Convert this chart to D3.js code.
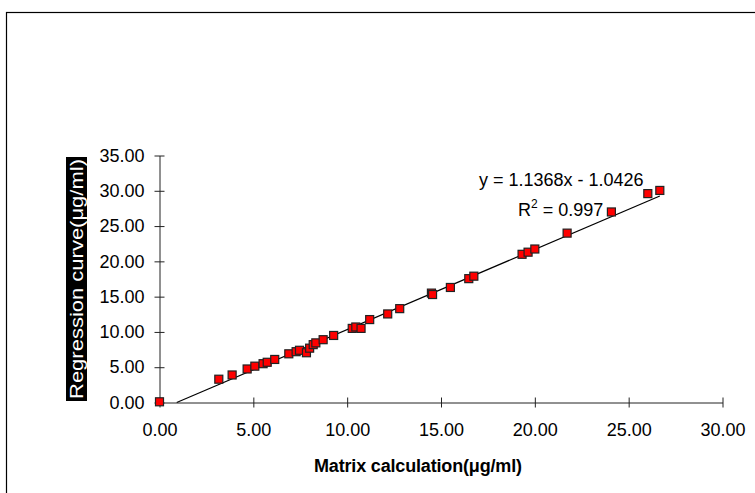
<!DOCTYPE html>
<html>
<head>
<meta charset="utf-8">
<script src="https://cdn.jsdelivr.net/npm/d3@7"></script>
<style>
  body { margin: 0; background: #fff; }
  svg { display: block; font-family: "Liberation Sans", Arial, sans-serif; }
</style>
</head>
<body>
<div id="chart"></div>
<script>
// measured points (matrix calculation vs regression curve)
const matrixX = [0.00, 3.16, 3.87, 4.67, 5.08, 5.52, 5.74, 6.14, 6.89, 7.28, 7.46, 7.83, 8.00, 8.19, 8.33,
  8.72, 9.28, 10.27, 10.46, 10.74, 11.20, 12.16, 12.80, 14.49, 14.55, 15.50, 16.48, 16.75,
  19.32, 19.64, 20.00, 21.72, 24.08, 26.02, 26.66];
const regressionY = [0.10, 3.30, 3.90, 4.75, 5.15, 5.50, 5.70, 6.10, 6.90, 7.20, 7.40, 7.05, 7.70, 8.20, 8.45,
  8.90, 9.50, 10.50, 10.70, 10.50, 11.75, 12.55, 13.30, 15.50, 15.30, 16.30, 17.55, 17.90,
  21.00, 21.30, 21.75, 24.00, 27.00, 29.60, 30.05];
const xTicks = [0, 5, 10, 15, 20, 25, 30];
const yTicks = [0, 5, 10, 15, 20, 25, 30, 35];
// trendline as printed on the chart
const slope = 1.1368;
const intercept = -1.0426;

const W = 755, H = 493;
const svg = d3.select("#chart").append("svg")
  .attr("width", W)
  .attr("height", H);

// outer frame (only top and left edges show in the picture)
svg.append("rect")
  .attr("x", 6.5).attr("y", 12.5)
  .attr("width", 800).attr("height", 600)
  .attr("fill", "none")
  .attr("stroke", "#000")
  .attr("stroke-width", 1.2);

// scales
const x = d3.scaleLinear().domain([0, 30]).range([159.5, 722.5]);
const y = d3.scaleLinear().domain([0, 35]).range([402.5, 155.5]);

// x axis
const xAxis = svg.append("g")
  .attr("transform", `translate(0,${y(0)})`)
  .call(d3.axisBottom(x).tickValues(xTicks).tickFormat(d3.format(".2f")).tickSizeOuter(0));
xAxis.select(".domain").attr("stroke", "#222");
xAxis.selectAll(".tick line").attr("y1", -5).attr("y2", 5).attr("stroke", "#222");
xAxis.selectAll(".tick text")
  .attr("y", 33).attr("dy", null)
  .attr("font-size", 18).attr("fill", "#000")
  .style("font-family", "'Liberation Sans', Arial, sans-serif");

// y axis
const yAxis = svg.append("g")
  .attr("transform", `translate(${x(0)},0)`)
  .call(d3.axisLeft(y).tickValues(yTicks).tickFormat(d3.format(".2f")).tickSizeOuter(0));
yAxis.select(".domain").attr("stroke", "#222");
yAxis.selectAll(".tick line").attr("x1", -5).attr("x2", 5).attr("stroke", "#222");
yAxis.selectAll(".tick text")
  .attr("x", -15)
  .attr("font-size", 18).attr("fill", "#000")
  .style("font-family", "'Liberation Sans', Arial, sans-serif");

// trendline, starts where it crosses y = 0
const x0 = -intercept / slope;
const x1 = d3.max(matrixX);
svg.append("line")
  .attr("x1", x(x0)).attr("y1", y(slope * x0 + intercept))
  .attr("x2", x(x1)).attr("y2", y(slope * x1 + intercept))
  .attr("stroke", "#000")
  .attr("stroke-width", 1.2);

// points
const pts = matrixX.map((v, i) => ({ x: v, y: regressionY[i] }));
svg.append("g")
  .selectAll("rect")
  .data(pts)
  .join("rect")
    .attr("x", d => x(d.x) - 4)
    .attr("y", d => y(d.y) - 4)
    .attr("width", 8)
    .attr("height", 8)
    .attr("fill", "#ff0000")
    .attr("stroke", "#222")
    .attr("stroke-width", 1.2);

// equation + R squared
svg.append("text")
  .attr("x", 479).attr("y", 186)
  .attr("font-size", 18)
  .text("y = 1.1368x - 1.0426");
const r2 = svg.append("text")
  .attr("x", 518).attr("y", 216)
  .attr("font-size", 18);
r2.append("tspan").text("R");
r2.append("tspan").attr("dy", -8).attr("font-size", 12).text("2");
r2.append("tspan").attr("dy", 8).text(" = 0.997");

// x axis title (spaced out like the original)
svg.append("text")
  .attr("x", 314).attr("y", 472)
  .attr("font-size", 18)
  .attr("font-weight", "bold")
  .attr("textLength", 208)
  .attr("lengthAdjust", "spacing")
  .text("Matrix calculation(μg/ml)");

// y axis title: white on black box
svg.append("rect")
  .attr("x", 66).attr("y", 157)
  .attr("width", 21).attr("height", 244)
  .attr("fill", "#000");
svg.append("text")
  .attr("transform", `translate(83,279) rotate(-90)`)
  .attr("text-anchor", "middle")
  .attr("font-size", 18)
  .attr("fill", "#fff")
  .attr("textLength", 240)
  .attr("lengthAdjust", "spacingAndGlyphs")
  .text("Regression curve(μg/ml)");
</script>
</body>
</html>
